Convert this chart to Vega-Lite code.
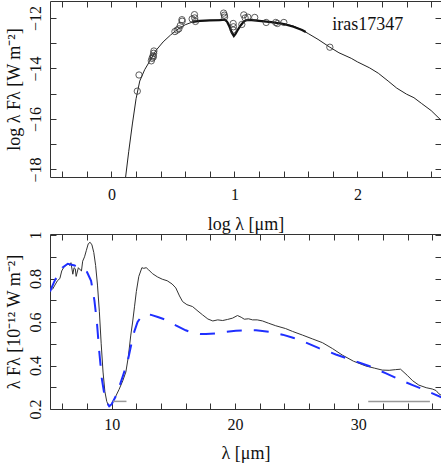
{
  "$schema": "https://vega.github.io/schema/vega-lite/v6.json",
  "padding": {"left": 4, "top": 0, "right": 1, "bottom": 0},
  "spacing": -5,
  "config": {
    "font": "Liberation Serif",
    "view": {"stroke": "#333", "strokeWidth": 1},
    "axis": {"domain": false, "grid": false, "ticks": true, "tickColor": "#333", "tickWidth": 1, "tickSize": 6, "offset": -6, "labelFont": "Liberation Serif", "labelFontSize": 16, "labelColor": "#111", "titleFont": "Liberation Serif", "titleFontSize": 18, "titleFontWeight": "normal", "titleColor": "#111", "labelFlush": false, "labelOverlap": false}
  },
  "datasets": {
    "model": [
      {"x": 0.11, "y": -18.5}, {"x": 0.14, "y": -17.3}, {"x": 0.17, "y": -16.2}, {"x": 0.2, "y": -15.2}, {"x": 0.23, "y": -14.5}, {"x": 0.27, "y": -14.05}, {"x": 0.31, "y": -13.72}, {"x": 0.36, "y": -13.3}, {"x": 0.42, "y": -12.95}, {"x": 0.48, "y": -12.68}, {"x": 0.52, "y": -12.52}, {"x": 0.56, "y": -12.38}, {"x": 0.6, "y": -12.27}, {"x": 0.66, "y": -12.16}, {"x": 0.72, "y": -12.12}, {"x": 0.8, "y": -12.1}, {"x": 0.88, "y": -12.08}, {"x": 0.92, "y": -12.05}, {"x": 0.95, "y": -12.2}, {"x": 0.975, "y": -12.5}, {"x": 1.0, "y": -12.68}, {"x": 1.02, "y": -12.55}, {"x": 1.05, "y": -12.3}, {"x": 1.08, "y": -12.12}, {"x": 1.11, "y": -12.06}, {"x": 1.2, "y": -12.1}, {"x": 1.3, "y": -12.17}, {"x": 1.4, "y": -12.22}, {"x": 1.48, "y": -12.32}, {"x": 1.55, "y": -12.48}, {"x": 1.6, "y": -12.62}, {"x": 1.68, "y": -12.85}, {"x": 1.776, "y": -13.16}, {"x": 1.85, "y": -13.38}, {"x": 1.95, "y": -13.6}, {"x": 2.0, "y": -13.74}, {"x": 2.1, "y": -13.98}, {"x": 2.17, "y": -14.19}, {"x": 2.25, "y": -14.5}, {"x": 2.32, "y": -14.78}, {"x": 2.4, "y": -15.02}, {"x": 2.46, "y": -15.16}, {"x": 2.52, "y": -15.38}, {"x": 2.6, "y": -15.67}, {"x": 2.68, "y": -16.05}
    ],
    "spec": [
      {"x": 0.66, "y": -12.16}, {"x": 0.72, "y": -12.12}, {"x": 0.8, "y": -12.1}, {"x": 0.88, "y": -12.09}, {"x": 0.92, "y": -12.07}, {"x": 0.94, "y": -12.15}, {"x": 0.96, "y": -12.35}, {"x": 0.98, "y": -12.6}, {"x": 0.995, "y": -12.72}, {"x": 1.01, "y": -12.62}, {"x": 1.03, "y": -12.45}, {"x": 1.05, "y": -12.3}, {"x": 1.07, "y": -12.18}, {"x": 1.09, "y": -12.1}, {"x": 1.12, "y": -12.08}, {"x": 1.2, "y": -12.12}, {"x": 1.3, "y": -12.17}, {"x": 1.4, "y": -12.24}, {"x": 1.48, "y": -12.35}, {"x": 1.55, "y": -12.48}, {"x": 1.58, "y": -12.56}
    ],
    "phot": [
      {"x": 0.21, "y": -14.9}, {"x": 0.224, "y": -14.26}, {"x": 0.324, "y": -13.7}, {"x": 0.33, "y": -13.6}, {"x": 0.338, "y": -13.5}, {"x": 0.34, "y": -13.55}, {"x": 0.343, "y": -13.4}, {"x": 0.345, "y": -13.31}, {"x": 0.516, "y": -12.54}, {"x": 0.534, "y": -12.48}, {"x": 0.548, "y": -12.43}, {"x": 0.56, "y": -12.3}, {"x": 0.575, "y": -12.13}, {"x": 0.573, "y": -12.07}, {"x": 0.656, "y": -12.04}, {"x": 0.675, "y": -11.87}, {"x": 0.677, "y": -12.0}, {"x": 0.683, "y": -12.14}, {"x": 0.912, "y": -11.81}, {"x": 0.918, "y": -11.89}, {"x": 0.92, "y": -11.97}, {"x": 0.99, "y": -12.22}, {"x": 0.992, "y": -12.35}, {"x": 0.99, "y": -12.48}, {"x": 1.06, "y": -12.26}, {"x": 1.076, "y": -11.88}, {"x": 1.087, "y": -12.0}, {"x": 1.109, "y": -11.97}, {"x": 1.165, "y": -11.98}, {"x": 1.258, "y": -12.18}, {"x": 1.336, "y": -12.18}, {"x": 1.35, "y": -12.22}, {"x": 1.402, "y": -12.18}, {"x": 1.776, "y": -13.16}
    ],
    "label": [{"x": 2.085, "y": -12.3, "name": "iras17347"}],
    "bspec": [
      {"x": 5.2, "y": 0.75}, {"x": 5.4, "y": 0.77}, {"x": 5.6, "y": 0.79}, {"x": 5.8, "y": 0.8}, {"x": 5.95, "y": 0.835}, {"x": 6.1, "y": 0.85}, {"x": 6.3, "y": 0.862}, {"x": 6.45, "y": 0.87}, {"x": 6.6, "y": 0.86}, {"x": 6.7, "y": 0.873}, {"x": 6.85, "y": 0.82}, {"x": 6.95, "y": 0.85}, {"x": 7.05, "y": 0.845}, {"x": 7.12, "y": 0.81}, {"x": 7.3, "y": 0.85}, {"x": 7.45, "y": 0.84}, {"x": 7.55, "y": 0.835}, {"x": 7.65, "y": 0.88}, {"x": 7.8, "y": 0.9}, {"x": 7.95, "y": 0.93}, {"x": 8.1, "y": 0.96}, {"x": 8.25, "y": 0.967}, {"x": 8.4, "y": 0.955}, {"x": 8.55, "y": 0.92}, {"x": 8.7, "y": 0.86}, {"x": 8.85, "y": 0.77}, {"x": 9.0, "y": 0.65}, {"x": 9.15, "y": 0.5}, {"x": 9.3, "y": 0.37}, {"x": 9.45, "y": 0.28}, {"x": 9.6, "y": 0.235}, {"x": 9.75, "y": 0.215}, {"x": 9.85, "y": 0.212}, {"x": 9.95, "y": 0.22}, {"x": 10.1, "y": 0.235}, {"x": 10.3, "y": 0.255}, {"x": 10.6, "y": 0.29}, {"x": 10.9, "y": 0.33}, {"x": 11.15, "y": 0.37}, {"x": 11.35, "y": 0.44}, {"x": 11.55, "y": 0.54}, {"x": 11.7, "y": 0.6}, {"x": 11.85, "y": 0.67}, {"x": 12.0, "y": 0.74}, {"x": 12.2, "y": 0.81}, {"x": 12.45, "y": 0.85}, {"x": 12.6, "y": 0.847}, {"x": 12.8, "y": 0.85}, {"x": 13.0, "y": 0.84}, {"x": 13.3, "y": 0.823}, {"x": 13.7, "y": 0.808}, {"x": 14.1, "y": 0.797}, {"x": 14.5, "y": 0.79}, {"x": 14.9, "y": 0.775}, {"x": 15.2, "y": 0.757}, {"x": 15.5, "y": 0.72}, {"x": 15.75, "y": 0.694}, {"x": 16.1, "y": 0.68}, {"x": 16.56, "y": 0.671}, {"x": 17.0, "y": 0.65}, {"x": 17.37, "y": 0.633}, {"x": 17.8, "y": 0.614}, {"x": 18.2, "y": 0.605}, {"x": 18.6, "y": 0.61}, {"x": 19.0, "y": 0.607}, {"x": 19.4, "y": 0.612}, {"x": 19.8, "y": 0.618}, {"x": 20.2, "y": 0.63}, {"x": 20.5, "y": 0.622}, {"x": 20.75, "y": 0.613}, {"x": 21.1, "y": 0.615}, {"x": 21.42, "y": 0.61}, {"x": 21.8, "y": 0.61}, {"x": 22.23, "y": 0.605}, {"x": 22.7, "y": 0.595}, {"x": 23.3, "y": 0.583}, {"x": 24.1, "y": 0.57}, {"x": 24.66, "y": 0.557}, {"x": 25.47, "y": 0.54}, {"x": 26.3, "y": 0.522}, {"x": 27.09, "y": 0.505}, {"x": 27.9, "y": 0.478}, {"x": 28.7, "y": 0.448}, {"x": 29.6, "y": 0.42}, {"x": 30.6, "y": 0.398}, {"x": 31.3, "y": 0.388}, {"x": 31.94, "y": 0.379}, {"x": 32.5, "y": 0.378}, {"x": 33.0, "y": 0.381}, {"x": 33.42, "y": 0.383}, {"x": 33.96, "y": 0.355}, {"x": 34.4, "y": 0.33}, {"x": 34.9, "y": 0.31}, {"x": 35.5, "y": 0.298}, {"x": 35.99, "y": 0.292}, {"x": 36.3, "y": 0.285}, {"x": 36.53, "y": 0.27}, {"x": 36.75, "y": 0.262}
    ],
    "bmodel": [
      {"x": 5.0, "y": 0.74}, {"x": 5.3, "y": 0.78}, {"x": 5.63, "y": 0.82}, {"x": 6.0, "y": 0.85}, {"x": 6.44, "y": 0.868}, {"x": 7.0, "y": 0.86}, {"x": 7.52, "y": 0.845}, {"x": 8.0, "y": 0.83}, {"x": 8.33, "y": 0.79}, {"x": 8.6, "y": 0.7}, {"x": 8.8, "y": 0.6}, {"x": 9.0, "y": 0.46}, {"x": 9.2, "y": 0.34}, {"x": 9.4, "y": 0.27}, {"x": 9.6, "y": 0.23}, {"x": 9.8, "y": 0.213}, {"x": 10.0, "y": 0.222}, {"x": 10.3, "y": 0.255}, {"x": 10.6, "y": 0.3}, {"x": 10.9, "y": 0.35}, {"x": 11.3, "y": 0.42}, {"x": 11.6, "y": 0.5}, {"x": 11.84, "y": 0.557}, {"x": 12.1, "y": 0.6}, {"x": 12.4, "y": 0.625}, {"x": 12.8, "y": 0.635}, {"x": 13.2, "y": 0.633}, {"x": 13.8, "y": 0.622}, {"x": 14.4, "y": 0.61}, {"x": 15.2, "y": 0.585}, {"x": 16.0, "y": 0.562}, {"x": 16.6, "y": 0.55}, {"x": 17.2, "y": 0.545}, {"x": 17.64, "y": 0.545}, {"x": 18.5, "y": 0.548}, {"x": 19.3, "y": 0.555}, {"x": 20.07, "y": 0.56}, {"x": 21.0, "y": 0.562}, {"x": 21.7, "y": 0.562}, {"x": 22.8, "y": 0.555}, {"x": 23.85, "y": 0.542}, {"x": 24.7, "y": 0.528}, {"x": 25.47, "y": 0.512}, {"x": 26.8, "y": 0.48}, {"x": 28.17, "y": 0.451}, {"x": 29.5, "y": 0.425}, {"x": 30.86, "y": 0.398}, {"x": 32.2, "y": 0.365}, {"x": 33.56, "y": 0.33}, {"x": 34.4, "y": 0.31}, {"x": 35.18, "y": 0.292}, {"x": 36.0, "y": 0.272}, {"x": 36.8, "y": 0.252}
    ],
    "bars": [
      {"x": 10.1, "x2": 11.2, "y": 0.235}, {"x": 30.8, "x2": 35.8, "y": 0.235}
    ]
  },
  "vconcat": [
    {
      "width": 391,
      "height": 176,
      "layer": [
        {
          "encoding": {
            "x": {"field": "x", "type": "quantitative", "scale": {"domain": [-0.5, 2.68], "nice": false, "zero": false},
                  "axis": {"values": [-0.4, -0.2, 0, 0.2, 0.4, 0.6, 0.8, 1, 1.2, 1.4, 1.6, 1.8, 2, 2.2, 2.4, 2.6], "labelExpr": "datum.value % 1 === 0 ? format(datum.value, 'd') : ''", "labelPadding": 9, "title": "log λ [μm]", "titlePadding": 13}},
            "y": {"field": "y", "type": "quantitative", "scale": {"domain": [-18.3, -11.33], "nice": false, "zero": false},
                  "axis": {"values": [-18, -17, -16, -15, -14, -13, -12], "labelExpr": "datum.value % 2 === 0 ? format(datum.value, 'd') : ''", "labelAngle": -90, "labelAlign": "center", "labelBaseline": "bottom", "labelPadding": 7, "title": "log λ Fλ [W m⁻²]", "titlePadding": 4}}
          },
          "layer": [
            {"data": {"name": "model"}, "mark": {"type": "line", "color": "#222", "strokeWidth": 1, "clip": true}},
            {"data": {"name": "spec"}, "mark": {"type": "line", "color": "#111", "strokeWidth": 2.2, "clip": true}},
            {"data": {"name": "phot"}, "mark": {"type": "point", "shape": "circle", "filled": false, "size": 40, "color": "#333", "strokeWidth": 0.8, "opacity": 1}},
            {"data": {"name": "label"}, "mark": {"type": "text", "fontSize": 18, "font": "Liberation Serif", "color": "#111"}, "encoding": {"text": {"field": "name"}}}
          ]
        },
        {
          "data": {"name": "model"},
          "mark": {"type": "line", "opacity": 0},
          "encoding": {
            "x": {"field": "x", "type": "quantitative", "scale": {"domain": [-0.5, 2.68], "nice": false, "zero": false},
                  "axis": {"orient": "top", "values": [-0.4, -0.2, 0, 0.2, 0.4, 0.6, 0.8, 1, 1.2, 1.4, 1.6, 1.8, 2, 2.2, 2.4, 2.6], "labels": false, "title": null}},
            "y": {"field": "y", "type": "quantitative", "scale": {"domain": [-18.3, -11.33], "nice": false, "zero": false},
                  "axis": {"orient": "right", "values": [-18, -17, -16, -15, -14, -13, -12], "labels": false, "title": null}}
          }
        }
      ],
      "resolve": {"scale": {"x": "independent", "y": "independent"}, "axis": {"x": "independent", "y": "independent"}}
    },
    {
      "width": 391,
      "height": 175,
      "layer": [
        {
          "encoding": {
            "x": {"field": "x", "type": "quantitative", "scale": {"domain": [5, 36.7], "nice": false, "zero": false},
                  "axis": {"values": [6, 8, 10, 12, 14, 16, 18, 20, 22, 24, 26, 28, 30, 32, 34, 36], "labelExpr": "datum.value % 10 === 0 ? format(datum.value, 'd') : ''", "labelPadding": 7, "title": "λ [μm]", "titlePadding": 12}},
            "y": {"field": "y", "type": "quantitative", "scale": {"domain": [0.2, 1.005], "nice": false, "zero": false},
                  "axis": {"values": [0.2, 0.3, 0.4, 0.5, 0.6, 0.7, 0.8, 0.9, 1.0], "labelExpr": "round(datum.value * 10) % 2 === 0 ? format(datum.value, '~g') : ''", "labelAngle": -90, "labelAlign": "center", "labelBaseline": "bottom", "labelPadding": 7, "title": "λ Fλ [10⁻¹² W m⁻²]", "titlePadding": 4}}
          },
          "layer": [
            {"data": {"name": "bspec"}, "mark": {"type": "line", "color": "#333", "strokeWidth": 1, "clip": true}},
            {"data": {"name": "bmodel"}, "mark": {"type": "line", "color": "#1f2fff", "strokeWidth": 2, "strokeDash": [15, 12], "clip": true}},
            {"data": {"name": "bars"}, "mark": {"type": "rule", "color": "#999", "strokeWidth": 1.5}, "encoding": {"x2": {"field": "x2"}}}
          ]
        },
        {
          "data": {"name": "bmodel"},
          "mark": {"type": "line", "opacity": 0},
          "encoding": {
            "x": {"field": "x", "type": "quantitative", "scale": {"domain": [5, 36.7], "nice": false, "zero": false},
                  "axis": {"orient": "top", "values": [6, 8, 10, 12, 14, 16, 18, 20, 22, 24, 26, 28, 30, 32, 34, 36], "labels": false, "title": null}},
            "y": {"field": "y", "type": "quantitative", "scale": {"domain": [0.2, 1.005], "nice": false, "zero": false},
                  "axis": {"orient": "right", "values": [0.2, 0.3, 0.4, 0.5, 0.6, 0.7, 0.8, 0.9, 1.0], "labels": false, "title": null}}
          }
        }
      ],
      "resolve": {"scale": {"x": "independent", "y": "independent"}, "axis": {"x": "independent", "y": "independent"}}
    }
  ]
}
